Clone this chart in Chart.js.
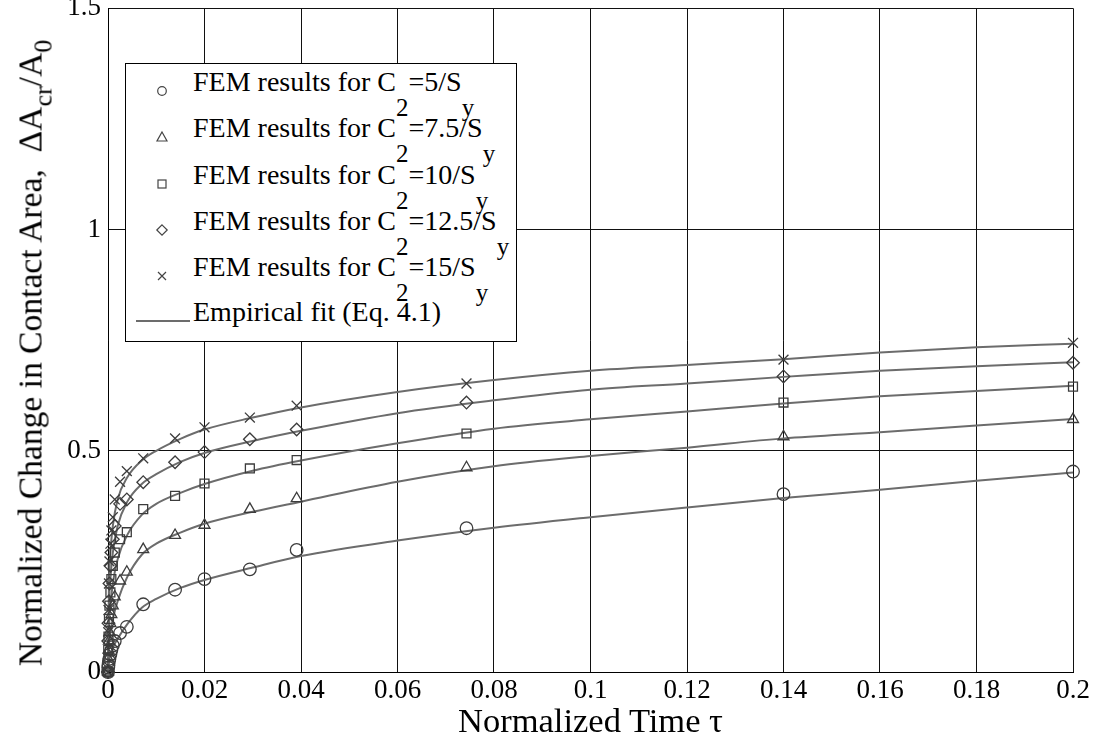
<!DOCTYPE html>
<html>
<head>
<meta charset="utf-8">
<script src="https://cdn.jsdelivr.net/npm/chart.js@4.4.0/dist/chart.umd.min.js"></script>
<style>
  html, body { margin: 0; padding: 0; background: #fff; }
  #wrap { position: relative; width: 1099px; height: 746px; font-family: 'Liberation Serif', 'Times New Roman', serif; color: #000; }
  #chart { position: absolute; left: 0; top: 0; }
  .legend { position: absolute; left: 125px; top: 63px; width: 392px; height: 279px; box-sizing: border-box;
            border: 1px solid #000; background: #fff; }
  .legend .mk { position: absolute; left: 29px; width: 14px; height: 14px; }
  .legend .ln { position: absolute; left: 10px; width: 54px; height: 4px; }
  .legend .tx { position: absolute; left: 67px; font-size: 28px; line-height: 29px; white-space: nowrap; }
  .sb { font-size: 25px; position: relative; top: 25px; }
  .xtitle { position: absolute; left: 0; width: 1181px; top: 703px; text-align: center; font-size: 34.5px; line-height: 34px; white-space: nowrap; }
  .ytitle { position: absolute; left: 32px; top: 353px; font-size: 33.6px; line-height: 34px; white-space: nowrap;
            transform: translate(-50%, -50%) rotate(-90deg); }
  .ysb { font-size: 26px; position: relative; top: 10px; }
</style>
</head>
<body>
<div id="wrap">
  <canvas id="chart" width="1099" height="746"></canvas>
  <div class="xtitle">Normalized Time τ</div>
  <div class="ytitle">Normalized Change in Contact Area,&nbsp; ΔA<span class="ysb">cr</span>/A<span class="ysb">0</span></div>
  <div class="legend" id="legend"></div>
</div>
<script>
// FEM sample times (normalized time tau)
var femTau = [0, 0.00005, 0.0001, 0.0002, 0.0003, 0.0005, 0.0007, 0.001, 0.0014, 0.0025, 0.0039, 0.0073, 0.0139, 0.02, 0.0294, 0.0391, 0.0743, 0.14, 0.2];
// FEM results, one array per C2 value
var femC5   = [0, 0.01, 0.015, 0.025, 0.03, 0.04, 0.05, 0.06, 0.07, 0.088, 0.102, 0.153, 0.186, 0.21, 0.232, 0.276, 0.325, 0.402, 0.453];
var femC75  = [0, 0.03, 0.05, 0.07, 0.09, 0.11, 0.13, 0.15, 0.17, 0.206, 0.226, 0.277, 0.309, 0.332, 0.368, 0.392, 0.462, 0.532, 0.571];
var femC10  = [0, 0.05, 0.08, 0.12, 0.15, 0.18, 0.21, 0.24, 0.27, 0.30, 0.316, 0.368, 0.398, 0.426, 0.46, 0.479, 0.539, 0.609, 0.645];
var femC125 = [0, 0.07, 0.11, 0.16, 0.2, 0.24, 0.27, 0.3, 0.33, 0.38, 0.39, 0.429, 0.474, 0.497, 0.526, 0.548, 0.609, 0.668, 0.699];
var femC15  = [0, 0.09, 0.14, 0.2, 0.25, 0.29, 0.32, 0.35, 0.39, 0.43, 0.454, 0.483, 0.528, 0.553, 0.575, 0.602, 0.652, 0.706, 0.744];

// Empirical fit curves
var fitTau = [0, 0.0002, 0.0005, 0.001, 0.002, 0.004, 0.007, 0.01, 0.015, 0.02, 0.03, 0.04, 0.06, 0.08, 0.1, 0.12, 0.14, 0.16, 0.18, 0.2];
var fitC5   = [0, 0.025, 0.04, 0.055, 0.075, 0.108, 0.145, 0.165, 0.19, 0.208, 0.236, 0.262, 0.297, 0.326, 0.35, 0.372, 0.393, 0.412, 0.432, 0.451];
var fitC75  = [0, 0.06, 0.09, 0.12, 0.16, 0.215, 0.265, 0.29, 0.315, 0.335, 0.362, 0.385, 0.43, 0.465, 0.488, 0.507, 0.528, 0.542, 0.557, 0.572];
var fitC10  = [0, 0.1, 0.15, 0.2, 0.255, 0.31, 0.355, 0.38, 0.405, 0.425, 0.455, 0.478, 0.517, 0.55, 0.571, 0.589, 0.607, 0.623, 0.635, 0.647];
var fitC125 = [0, 0.15, 0.21, 0.27, 0.33, 0.385, 0.425, 0.447, 0.475, 0.495, 0.522, 0.545, 0.585, 0.614, 0.638, 0.652, 0.667, 0.681, 0.691, 0.70];
var fitC15  = [0, 0.2, 0.27, 0.33, 0.39, 0.44, 0.478, 0.5, 0.527, 0.548, 0.575, 0.598, 0.633, 0.66, 0.681, 0.694, 0.707, 0.722, 0.734, 0.742];

var c2Labels = ['5', '7.5', '10', '12.5', '15'];
var xTicks = [0, 0.02, 0.04, 0.06, 0.08, 0.1, 0.12, 0.14, 0.16, 0.18, 0.2];
var yTicks = [0, 0.5, 1, 1.5];

var markerColor = '#3c3c3c';
var fitColor = '#6c6c6c';
var styles = ['circle', 'triangle', 'rect', 'rectRot', 'crossRot'];

function pts(xs, ys) {
    return xs.map(function(x, i) { return { x: x, y: ys[i] }; });
}

var femSeries = [femC5, femC75, femC10, femC125, femC15];
var fitSeries = [fitC5, fitC75, fitC10, fitC125, fitC15];

var datasets = [];
fitSeries.forEach(function(s) {
    datasets.push({
        data: pts(fitTau, s), showLine: true, pointRadius: 0,
        borderColor: fitColor, borderWidth: 2, cubicInterpolationMode: 'monotone',
        clip: false, order: 2
    });
});
femSeries.forEach(function(s, i) {
    datasets.push({
        data: pts(femTau, s), showLine: false, pointStyle: styles[i],
        pointRadius: styles[i] === 'crossRot' ? 7 : 6.3, pointBorderWidth: 1.3,
        pointBorderColor: markerColor, pointBackgroundColor: 'rgba(0,0,0,0)',
        clip: false, order: 1
    });
});

var serif = '"Liberation Serif", "Times New Roman", serif';
Chart.defaults.font.family = serif;
var fontTick = { family: serif, size: 27 };

function noPad(s) { s.paddingTop = 0; s.paddingBottom = 0; s.paddingLeft = 0; s.paddingRight = 0; }

new Chart(document.getElementById('chart').getContext('2d'), {
    type: 'scatter',
    data: { datasets: datasets },
    options: {
        responsive: false, animation: false,
        layout: { padding: { top: 8, right: 26, left: 0, bottom: 0 } },
        plugins: { legend: { display: false }, tooltip: { enabled: false } },
        scales: {
            x: {
                type: 'linear', min: 0, max: 0.2,
                afterFit: function(s) { s.height = 74; noPad(s); },
                afterBuildTicks: function(s) { s.ticks = xTicks.map(function(v) { return { value: v }; }); },
                ticks: { color: '#000', font: fontTick, padding: 3, maxRotation: 0, autoSkip: false,
                         callback: function(v) { return String(Math.round(v * 100) / 100); } },
                grid: { color: '#111', lineWidth: 1, drawTicks: false },
                border: { color: '#000', width: 1 }
            },
            y: {
                type: 'linear', min: 0, max: 1.5,
                afterFit: function(s) { s.width = 108; noPad(s); },
                afterBuildTicks: function(s) { s.ticks = yTicks.map(function(v) { return { value: v }; }); },
                ticks: { color: '#000', font: fontTick, padding: 7,
                         callback: function(v) { return String(Math.round(v * 10) / 10); } },
                grid: { color: '#111', lineWidth: 1, drawTicks: false },
                border: { color: '#000', width: 1 }
            }
        }
    }
});

/* ---- HTML legend with subscripts ---- */
var svgMarks = {
    circle: '<circle cx="7" cy="7" r="4.3" fill="none" stroke="#444" stroke-width="1.2"/>',
    triangle: '<polygon points="7,2 12,11 2,11" fill="none" stroke="#444" stroke-width="1.2"/>',
    rect: '<rect x="3" y="3" width="8" height="8" fill="none" stroke="#444" stroke-width="1.2"/>',
    rectRot: '<polygon points="7,1.8 12.2,7 7,12.2 1.8,7" fill="none" stroke="#444" stroke-width="1.2"/>',
    crossRot: '<path d="M3,3 L11,11 M11,3 L3,11" stroke="#444" stroke-width="1.2"/>'
};
var legend = document.getElementById('legend');
var html = '';
var rowStep = 46.3, firstRow = 27; // marker centre, relative to box
c2Labels.forEach(function(c, i) {
    var cy = firstRow + rowStep * i;
    html += '<svg class="mk" style="top:' + (cy - 7) + 'px" viewBox="0 0 14 14">' + svgMarks[styles[i]] + '</svg>';
    html += '<div class="tx" style="top:' + (cy - 24) + 'px">FEM results for C<span class="sb">2</span>=' + c + '/S<span class="sb">y</span></div>';
});
var ly = firstRow + rowStep * 5 - 2;
html += '<svg class="ln" style="top:' + (ly - 2) + 'px" viewBox="0 0 54 4"><line x1="0" y1="2" x2="54" y2="2" stroke="' + fitColor + '" stroke-width="2"/></svg>';
html += '<div class="tx" style="top:' + (ly - 24) + 'px">Empirical fit (Eq. 4.1)</div>';
legend.innerHTML = html;
</script>
</body>
</html>
